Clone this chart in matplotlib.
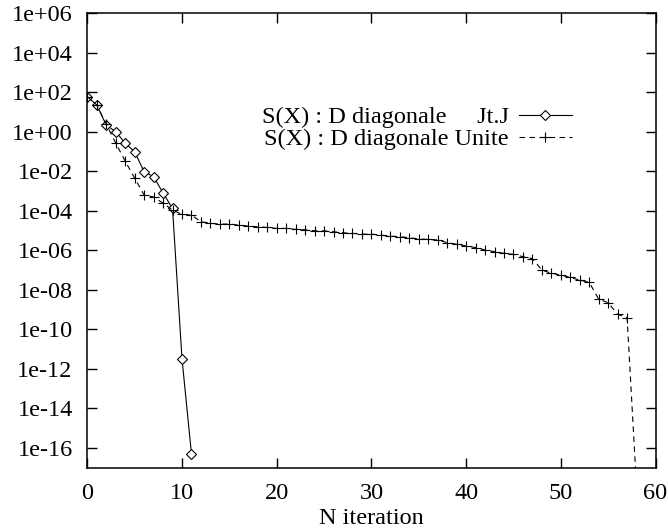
import numpy as np
import matplotlib
matplotlib.use("Agg")
import matplotlib.pyplot as plt

plt.rcParams['font.family'] = ['Liberation Serif', 'DejaVu Serif']
plt.rcParams['font.size'] = 17.5

# D diagonale Jt.J  (log10 of S(X))
it_jtj = np.arange(0, 12)
log_jtj = [1.78, 1.36, 0.34, 0.01, -0.57, -1.01, -2.02, -2.27, -3.10, -3.88, -11.5, -16.31]

# D diagonale Unite (log10 of S(X)), last value falls below the axis
it_unit = np.arange(0, 59)
log_unit = [1.78, 1.36, 0.39, -0.57, -1.48, -2.34, -3.20, -3.30, -3.61, -3.96,
            -4.18, -4.21, -4.55, -4.63, -4.67, -4.67, -4.72, -4.77, -4.81, -4.84,
            -4.89, -4.89, -4.94, -4.96, -5.01, -5.01, -5.06, -5.11, -5.14, -5.18,
            -5.18, -5.23, -5.28, -5.31, -5.36, -5.42, -5.45, -5.47, -5.61, -5.69,
            -5.78, -5.86, -5.98, -6.07, -6.15, -6.20, -6.32, -6.42, -7.00, -7.16,
            -7.25, -7.37, -7.51, -7.62, -8.47, -8.65, -9.24, -9.41, -18.0]

yticks = [10.0 ** p for p in range(-16, 7, 2)]
ytick_labels = ["1e-16", "1e-14", "1e-12", "1e-10", "1e-08", "1e-06",
                "1e-04", "1e-02", "1e+00", "1e+02", "1e+04", "1e+06"]

fig = plt.figure(figsize=(6.68, 5.31), dpi=100)
ax = fig.add_axes([0.1307, 0.1186, 0.8506, 0.8563])

ax.plot(it_jtj, 10.0 ** np.array(log_jtj), color='black', lw=0.8,
        marker='D', markersize=5.5, markerfacecolor='white', markeredgecolor='black',
        markeredgewidth=0.8, label="S(X) : D diagonale     Jt.J")
ax.plot(it_unit, 10.0 ** np.array(log_unit), color='black', lw=0.8, linestyle=(0, (5, 4)),
        marker='+', markersize=7.5, markeredgewidth=0.8,
        label="S(X) : D diagonale Unite")

ax.set_yscale('log')
ax.set_xlim(0, 60)
ax.set_ylim(10.0 ** -17.02, 1e6)
ax.set_yticks(yticks)
ax.set_yticklabels(ytick_labels)
ax.minorticks_off()
ax.set_xticks(range(0, 61, 10))
ax.tick_params(direction='in', length=7.5, width=1, top=True, right=True)
ax.tick_params(axis='y', pad=10.5)
ax.tick_params(axis='x', pad=11)
for s in ax.spines.values():
    s.set_linewidth(1.1)
ax.set_xlabel("N iteration", labelpad=2.5)

leg = ax.legend(loc='upper right', bbox_to_anchor=(0.853, 0.796), frameon=False,
                markerfirst=False, handlelength=2.2, handletextpad=0.4,
                labelspacing=0.0, borderpad=0, borderaxespad=0)

fig.savefig("out.png", dpi=100)
